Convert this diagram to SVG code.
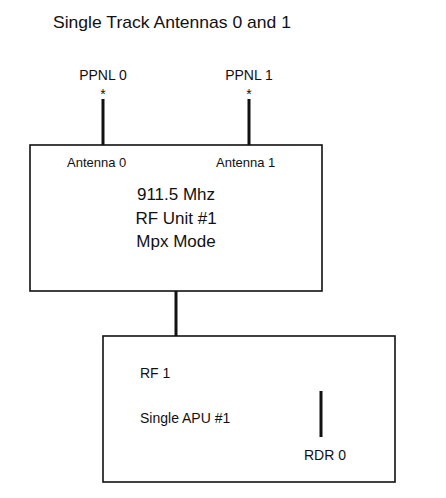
<svg xmlns="http://www.w3.org/2000/svg" width="446" height="498" viewBox="0 0 446 498">
<style>
text{font-family:"Liberation Sans",Arial,sans-serif;fill:#111}
.box{fill:#fff;stroke:#111;stroke-width:1.6}
.ln{stroke:#111;stroke-width:3;fill:none}
.s{font-size:13px}
.m{font-size:14px}
.l{font-size:17px}
</style>
<rect width="446" height="498" fill="#fff"/>
<text id="title" x="53" y="28" font-size="17" textLength="238" lengthAdjust="spacingAndGlyphs">Single Track Antennas 0 and 1</text>
<g id="ppnl0"><text class="m" x="103" y="80" text-anchor="middle">PPNL 0</text><text class="m" x="103" y="99" text-anchor="middle">*</text></g>
<g id="ppnl1"><text class="m" x="249" y="80" text-anchor="middle">PPNL 1</text><text class="m" x="249" y="99" text-anchor="middle">*</text></g>
<g id="connectors">
<line class="ln" x1="103" y1="99" x2="103" y2="145"/>
<line class="ln" x1="249" y1="99" x2="249" y2="145"/>
<line class="ln" x1="176" y1="291" x2="176" y2="336"/>
</g>
<g id="rfunit">
<rect class="box" x="30" y="145" width="292" height="146"/>
<text class="s" x="67" y="167">Antenna 0</text>
<text class="s" x="216" y="167">Antenna 1</text>
<text class="l" x="176" y="200" text-anchor="middle">911.5 Mhz</text>
<text class="l" x="176" y="224" text-anchor="middle">RF Unit #1</text>
<text class="l" x="176" y="247" text-anchor="middle">Mpx Mode</text>
</g>
<g id="apu">
<rect class="box" x="103" y="336" width="292" height="146"/>
<text class="m" x="140" y="378">RF 1</text>
<text class="m" x="140" y="423">Single APU #1</text>
<line class="ln" x1="321" y1="391" x2="321" y2="437"/>
<text class="m" x="304" y="460">RDR 0</text>
</g>
</svg>
